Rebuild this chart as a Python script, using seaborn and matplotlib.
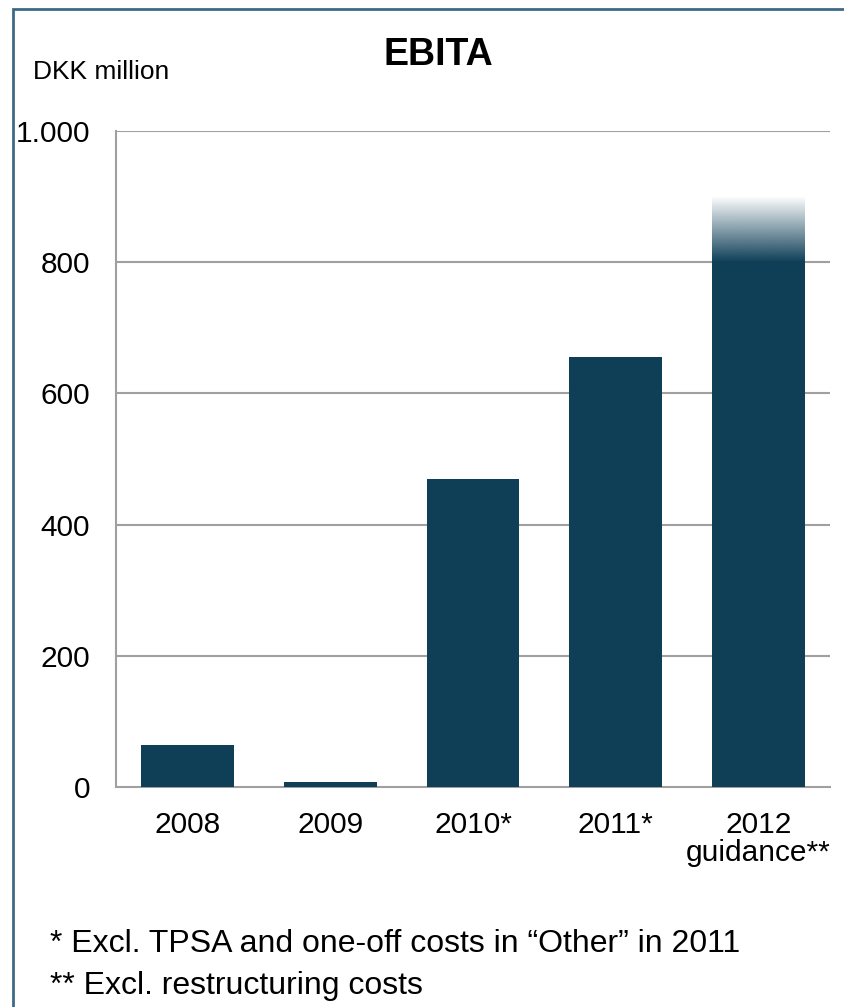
import numpy as np
import pandas as pd
import matplotlib
matplotlib.use("Agg")
import matplotlib.pyplot as plt
from matplotlib.patches import Rectangle
import seaborn as sns

categories = ["2008", "2009", "2010*", "2011*", "2012\nguidance**"]
values = [64, 8, 470, 655, 900]
fade_start = 800  # guidance bar fades out above this value
yticks = [0, 200, 400, 600, 800, 1000]
ytick_labels = ["0", "200", "400", "600", "800", "1.000"]

BAR = "#0E3F57"
GRID = "#A0A0A0"

sns.set_theme(style="white")
plt.rcParams["font.family"] = ["Liberation Sans", "DejaVu Sans"]
plt.rcParams["text.color"] = "black"

fig = plt.figure(figsize=(8.44, 10.07), dpi=100)
ax = fig.add_axes([116/844, 1-787/1007, (830-116)/844, (787-131)/1007])

df = pd.DataFrame({"cat": categories, "val": values})
sns.barplot(data=df, x="cat", y="val", color=BAR, saturation=1, width=0.65, ax=ax,
            zorder=3, linewidth=0, edgecolor="none")

ax.set_ylim(0, 1000)
ax.set_yticks(yticks)
ax.set_yticklabels(ytick_labels)
ax.set_xlabel("")
ax.set_ylabel("")
for y in yticks[1:]:
    ax.axhline(y, color=GRID, lw=1.5, zorder=1)

for s in ["top", "right"]:
    ax.spines[s].set_visible(False)
for s in ["left", "bottom"]:
    ax.spines[s].set_color(GRID)
    ax.spines[s].set_linewidth(1.5)
ax.tick_params(axis="both", length=0, labelsize=21.5, colors="black")
ax.tick_params(axis="y", pad=18.5)
ax.tick_params(axis="x", pad=17)
for lab in ax.get_xticklabels():
    lab.set_multialignment("center")
    lab.set_linespacing(1.0)

# gradient on the guidance bar
p = ax.patches[len(values) - 1]
x0, w = p.get_x(), p.get_width()
top = p.get_height()
p.set_height(fade_start)
n = 256
rgb = np.array(matplotlib.colors.to_rgb(BAR))
img = np.zeros((n, 1, 4))
img[:, 0, :3] = rgb
img[:, 0, 3] = np.linspace(0, 1, n)
ax.imshow(img, extent=(x0, x0 + w, fade_start, top), aspect="auto", zorder=3,
          interpolation="bilinear")
ax.set_xlim(-0.5, len(values) - 0.5)
ax.set_ylim(0, 1000)

fig.text(438/844, 1-55/1007, "EBITA", ha="center", va="center", fontsize=27, fontweight="bold")
fig.text(33/844, 1-72/1007, "DKK million", ha="left", va="center", fontsize=19)
fig.text(50/844, 1-944/1007, "* Excl. TPSA and one-off costs in \u201cOther\u201d in 2011",
         ha="left", va="center", fontsize=23)
fig.text(50/844, 1-986/1007, "** Excl. restructuring costs", ha="left", va="center", fontsize=23)

fig.patches.append(Rectangle((13/844, -0.1), 1.2, 1.1 - 9/1007, transform=fig.transFigure,
                             fill=False, edgecolor="#3D6A86", lw=2, zorder=0))

fig.savefig("out.png", dpi=100)
